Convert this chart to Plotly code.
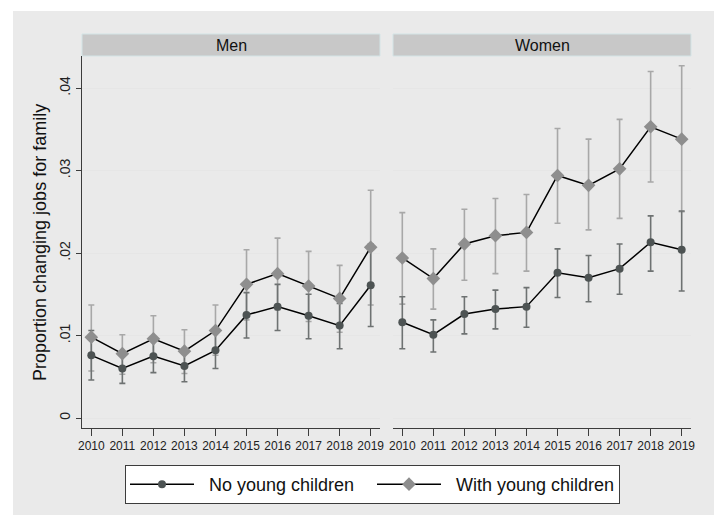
import plotly.graph_objects as go

years = [2010, 2011, 2012, 2013, 2014, 2015, 2016, 2017, 2018, 2019]
panels = ["Men", "Women"]
series_names = ["No young children", "With young children"]
ytick_vals = [0, 0.01, 0.02, 0.03, 0.04]
ytick_text = ["0", ".01", ".02", ".03", ".04"]

men_no_mean = [0.0076, 0.0060, 0.0075, 0.0063, 0.0082, 0.0125, 0.0135, 0.0124, 0.0112, 0.0161]
men_no_lo = [0.0046, 0.0042, 0.0055, 0.0044, 0.0060, 0.0097, 0.0106, 0.0096, 0.0084, 0.0111]
men_no_hi = [0.0106, 0.0078, 0.0095, 0.0082, 0.0104, 0.0152, 0.0162, 0.0150, 0.0139, 0.0211]

men_yc_mean = [0.0098, 0.0078, 0.0096, 0.0081, 0.0106, 0.0162, 0.0175, 0.0160, 0.0145, 0.0207]
men_yc_lo = [0.0057, 0.0053, 0.0067, 0.0054, 0.0076, 0.0119, 0.0131, 0.0117, 0.0104, 0.0137]
men_yc_hi = [0.0137, 0.0101, 0.0124, 0.0107, 0.0137, 0.0204, 0.0218, 0.0202, 0.0185, 0.0276]

women_no_mean = [0.0116, 0.0101, 0.0126, 0.0132, 0.0135, 0.0176, 0.0170, 0.0181, 0.0213, 0.0204]
women_no_lo = [0.0084, 0.0080, 0.0102, 0.0108, 0.0110, 0.0146, 0.0141, 0.0150, 0.0178, 0.0154]
women_no_hi = [0.0147, 0.0119, 0.0147, 0.0155, 0.0158, 0.0205, 0.0197, 0.0211, 0.0245, 0.0251]

women_yc_mean = [0.0194, 0.0169, 0.0211, 0.0221, 0.0225, 0.0294, 0.0282, 0.0302, 0.0353, 0.0338]
women_yc_lo = [0.0138, 0.0132, 0.0167, 0.0175, 0.0178, 0.0236, 0.0228, 0.0242, 0.0286, 0.0250]
women_yc_hi = [0.0249, 0.0205, 0.0253, 0.0266, 0.0271, 0.0351, 0.0338, 0.0362, 0.0420, 0.0427]

FONT = "Liberation Sans, Arial, sans-serif"
NO_COL = "#4d5353"
YC_COL = "#8e8e8e"
NO_ERR = "#6e7272"
YC_ERR = "#a8a8a8"

data = {
    "Men": {
        "no": (men_no_mean, men_no_lo, men_no_hi),
        "yc": (men_yc_mean, men_yc_lo, men_yc_hi),
    },
    "Women": {
        "no": (women_no_mean, women_no_lo, women_no_hi),
        "yc": (women_yc_mean, women_yc_lo, women_yc_hi),
    },
}

fig = go.Figure()

def err(mean, lo, hi, color):
    return dict(
        type="data", symmetric=False,
        array=[h - m for h, m in zip(hi, mean)],
        arrayminus=[m - l for m, l in zip(mean, lo)],
        color=color, thickness=1.6, width=3,
    )

for i, p in enumerate(panels):
    xa = "x" if i == 0 else "x2"
    ya = "y" if i == 0 else "y2"
    # error bars first (under markers)
    for key, ecol in (("yc", YC_ERR), ("no", NO_ERR)):
        m, lo, hi = data[p][key]
        fig.add_trace(go.Scatter(
            x=years, y=m, mode="markers", xaxis=xa, yaxis=ya,
            marker=dict(size=1, opacity=0),
            error_y=err(m, lo, hi, ecol), showlegend=False, hoverinfo="skip",
        ))
    for key, name, col, sym, size in (("no", series_names[0], NO_COL, "circle", 8),
                                      ("yc", series_names[1], YC_COL, "diamond", 10.5)):
        m, lo, hi = data[p][key]
        fig.add_trace(go.Scatter(
            x=years, y=m, mode="lines+markers", xaxis=xa, yaxis=ya,
            name="\u00a0\u00a0" + name,
            line=dict(color="black", width=1.5),
            marker=dict(color=col, symbol=sym, size=size, line=dict(width=0)),
            showlegend=(i == 0), legendgroup=name,
        ))

# the page body has an 8px default margin: lay out in page pixels, shifted by OFF
OFF = 8
W, H = 722 - OFF, 516 - OFF
L = 82 - OFF
T = 56 - OFF
R = W - (691 - OFF)
B = H - (428 - OFF)
pw = W - L - R
ph = H - T - B
d1 = [0, (380 - 82) / pw]
d2 = [(393 - 82) / pw, 1]

def px_x(x):
    return (x - OFF - L) / pw

def px_y(y):
    return (H - B - (y - OFF)) / ph

xcommon = dict(range=[2009.70, 2019.30], tickvals=years, ticktext=[str(y) for y in years],
               showgrid=False, zeroline=False, showline=True, linecolor="#3c3c3c", linewidth=1,
               ticks="outside", ticklen=7, tickcolor="#3c3c3c", tickwidth=1, automargin=False,
               tickfont=dict(family=FONT, size=12, color="#222"), fixedrange=True)
ycommon = dict(range=[-0.00121, 0.04388], tickvals=ytick_vals, ticktext=ytick_text,
               showgrid=True, gridcolor="#e6e6e6", gridwidth=1, zeroline=False, fixedrange=True,
               automargin=False)

shapes = [
    dict(type="rect", xref="paper", yref="paper", x0=px_x(13), x1=px_x(715), y0=px_y(515), y1=px_y(11),
         fillcolor="#eaeaea", line=dict(width=0), layer="below"),
]
annotations = []
for dom, name in ((d1, "Men"), (d2, "Women")):
    shapes.append(dict(type="rect", xref="paper", yref="paper", x0=dom[0], x1=dom[1],
                       y0=px_y(56), y1=px_y(34), fillcolor="#c8c8c8",
                       line=dict(color="#d3e4e6", width=1)))
    annotations.append(dict(text=name, xref="paper", yref="paper", x=(dom[0] + dom[1]) / 2,
                            y=px_y(45), showarrow=False, xanchor="center", yanchor="middle",
                            font=dict(family=FONT, size=16, color="#111")))
annotations.append(dict(text="Proportion changing jobs for family", xref="paper", yref="paper",
                        x=px_x(40), y=px_y(243), textangle=-90, showarrow=False,
                        xanchor="center", yanchor="middle",
                        font=dict(family=FONT, size=18, color="#111")))

fig.update_layout(
    width=W, height=H, margin=dict(l=L, r=R, t=T, b=B, autoexpand=False),
    paper_bgcolor="white", plot_bgcolor="white",
    xaxis=dict(domain=d1, anchor="y", **xcommon),
    xaxis2=dict(domain=d2, anchor="y2", **xcommon),
    yaxis=dict(domain=[0, 1], anchor="x", showline=True, linecolor="#3c3c3c", linewidth=1,
               ticks="outside", ticklen=5, tickcolor="#3c3c3c", tickangle=-90,
               tickfont=dict(family=FONT, size=14, color="#222"), **ycommon),
    yaxis2=dict(domain=[0, 1], anchor="x2", showline=False, showticklabels=False, ticks="",
                **ycommon),
    shapes=shapes, annotations=annotations,
    legend=dict(orientation="h", x=px_x(372.5), xanchor="center", y=px_y(465), yanchor="top",
                bgcolor="white", bordercolor="#3c3c3c", borderwidth=1, itemwidth=64,
                font=dict(family=FONT, size=18, color="#111"), entrywidth=168,
                tracegroupgap=0),
    showlegend=True,
)

fig.write_html("out.html")
